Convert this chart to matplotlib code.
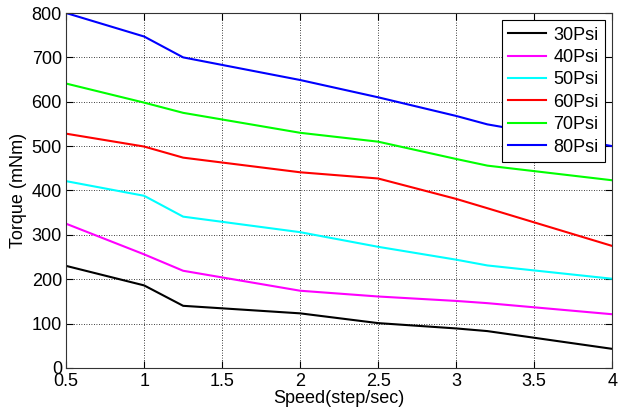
import matplotlib.pyplot as plt

plt.rcParams["font.family"] = ["Liberation Sans", "DejaVu Sans"]

speed = [0.5, 1, 1.25, 2, 2.5, 3, 3.2, 4]
torque_30 = [230, 186, 140, 123, 101, 89, 83, 43]
torque_40 = [325, 256, 219, 174, 161, 151, 146, 121]
torque_50 = [421, 388, 341, 306, 273, 244, 231, 201]
torque_60 = [528, 499, 474, 441, 427, 381, 360, 275]
torque_70 = [641, 598, 575, 530, 510, 471, 456, 423]
torque_80 = [800, 747, 700, 649, 610, 568, 549, 500]

labels = ["30Psi", "40Psi", "50Psi", "60Psi", "70Psi", "80Psi"]
colors = ["black", "magenta", "cyan", "red", "lime", "blue"]
series = [torque_30, torque_40, torque_50, torque_60, torque_70, torque_80]

fig = plt.figure(figsize=(6.24, 4.2), dpi=100)
ax = fig.add_axes([0.106, 0.124, 0.875, 0.845])

for vals, lab, col in zip(series, labels, colors):
    ax.plot(speed, vals, color=col, lw=1.5, label=lab)

ax.set_xlim(0.5, 4)
ax.set_ylim(0, 800)
ax.set_xticks([0.5, 1, 1.5, 2, 2.5, 3, 3.5, 4])
ax.set_xticklabels(["0.5", "1", "1.5", "2", "2.5", "3", "3.5", "4"])
ax.set_yticks(range(0, 801, 100))
ax.grid(True, color="black", linestyle=(0, (1, 2)), linewidth=0.6)
ax.tick_params(direction="in", top=True, right=True, labelsize=13, length=5)
ax.tick_params(axis="x", pad=4)
ax.tick_params(axis="y", pad=3)
for sp in ax.spines.values():
    sp.set_color("#333333")
ax.set_xlabel("Speed(step/sec)", fontsize=13, labelpad=0)
ax.set_ylabel("Torque (mNm)", fontsize=13, labelpad=3)

leg = ax.legend(loc="upper right", fontsize=13, fancybox=False, framealpha=1,
                edgecolor="black", borderaxespad=0.4, handlelength=2.1,
                labelspacing=0.3, handletextpad=0.4, borderpad=0.35)
leg.get_frame().set_linewidth(0.8)

fig.savefig("out.png", dpi=100)
